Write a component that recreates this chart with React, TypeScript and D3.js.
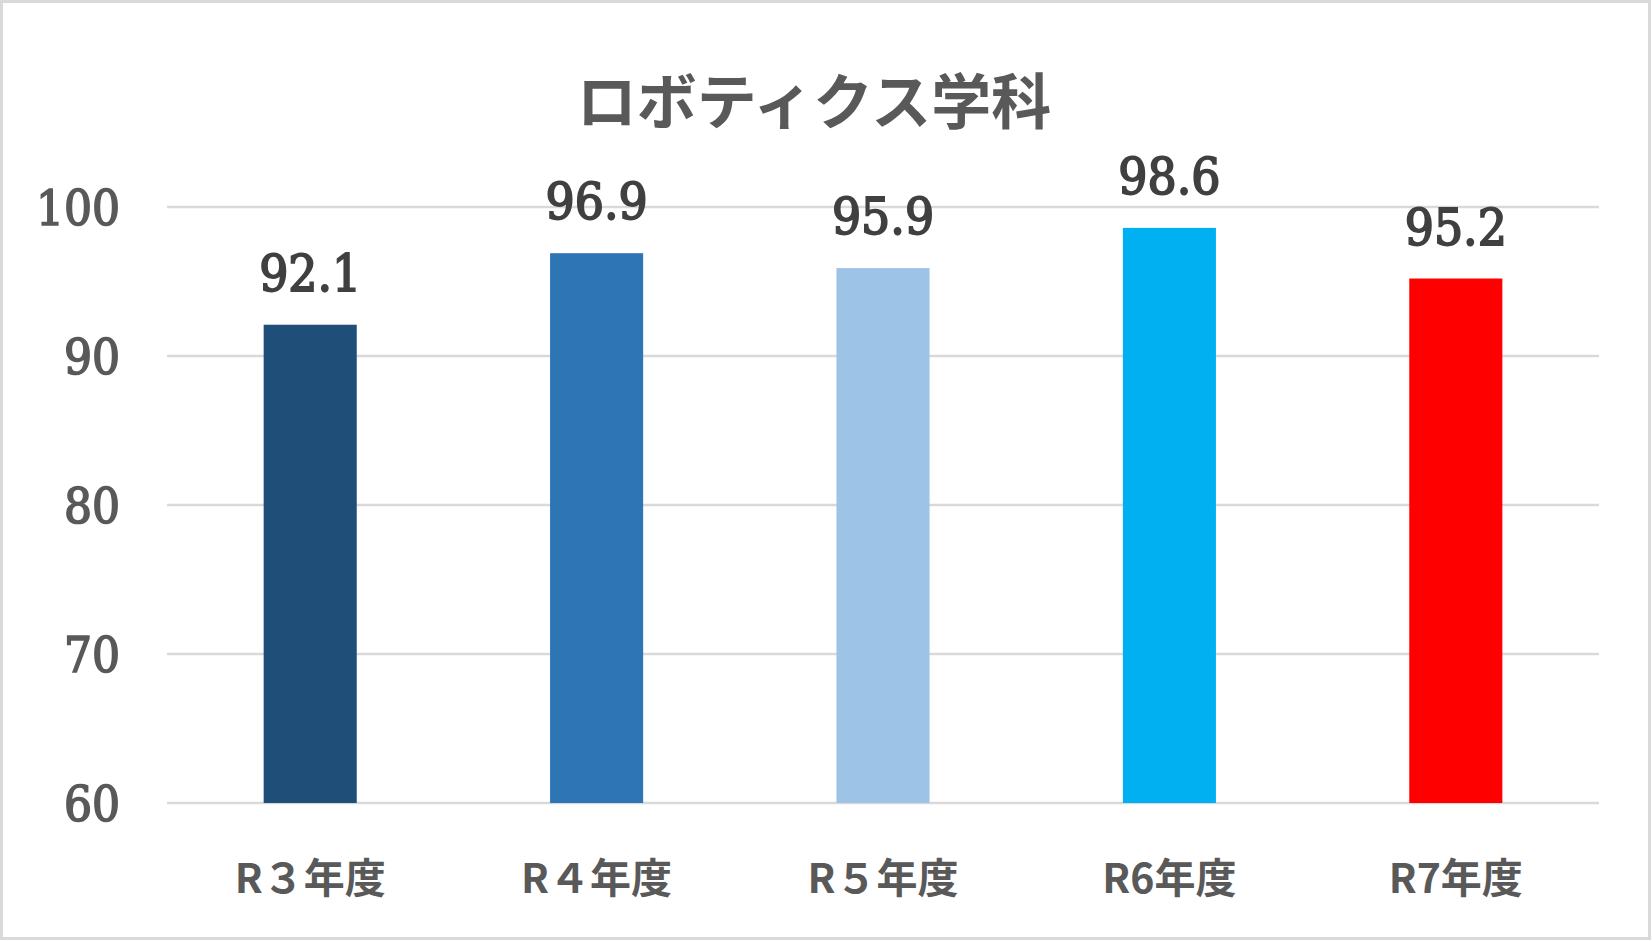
import React, { useEffect } from 'react';
import * as d3 from 'd3';

const categories = ['R３年度', 'R４年度', 'R５年度', 'R6年度', 'R7年度'];
const values = [92.1, 96.9, 95.9, 98.6, 95.2];
const barColors = ['#1f4e79', '#2e75b6', '#9dc3e6', '#00b0f0', '#ff0000'];
const yTicks = [60, 70, 80, 90, 100];
const title = 'ロボティクス学科';

const W = 1652;
const H = 941;
const plot = { left: 167, right: 1599, top: 207, bottom: 803 };

export default function App() {
  useEffect(() => {
    document.body.style.margin = '0';
  }, []);

  const x = d3.scaleBand<string>()
    .domain(categories)
    .range([plot.left, plot.right])
    .paddingInner(0.675)
    .paddingOuter(0.3375);

  const y = d3.scaleLinear()
    .domain([60, 100])
    .range([plot.bottom, plot.top]);

  const serif = '"DejaVu Serif Condensed", "DejaVu Serif", serif';
  const sans = '"Noto Sans CJK JP", "Noto Sans", sans-serif';

  return (
    <svg width={W} height={H} style={{ display: 'block' }}>
      <rect x={1.5} y={1.5} width={W - 4} height={H - 4} fill="#ffffff" stroke="#d9d9d9" strokeWidth={3} />

      <text x={814} y={124} textAnchor="middle" fontFamily={sans} fontSize={60} fontWeight={700} fill="#595959">
        {title}
      </text>

      {/* gridlines + y labels */}
      {yTicks.map(t => (
        <g key={t}>
          <line x1={plot.left} x2={plot.right} y1={y(t)} y2={y(t)} stroke="#d9d9d9" strokeWidth={2.5} />
          <text x={120} y={y(t)} dy="0.36em" textAnchor="end" fontFamily={serif} fontSize={49}
            fill="#595959" stroke="#595959" strokeWidth={1.6}>
            {t}
          </text>
        </g>
      ))}

      {/* bars */}
      {categories.map((c, i) => (
        <rect
          key={c}
          x={x(c)}
          y={y(values[i])}
          width={x.bandwidth()}
          height={y(60) - y(values[i])}
          fill={barColors[i]}
        />
      ))}

      {/* data labels */}
      {categories.map((c, i) => (
        <text
          key={c}
          x={(x(c) || 0) + x.bandwidth() / 2}
          y={y(values[i]) - 34}
          textAnchor="middle"
          fontFamily={serif}
          fontSize={51}
          fill="#404040"
          stroke="#404040"
          strokeWidth={1.8}
        >
          {values[i].toFixed(1)}
        </text>
      ))}

      {/* category labels */}
      {categories.map(c => (
        <text
          key={c}
          x={(x(c) || 0) + x.bandwidth() / 2}
          y={893}
          textAnchor="middle"
          fontFamily={sans}
          fontSize={41}
          fontWeight={700}
          fill="#595959"
        >
          {c}
        </text>
      ))}
    </svg>
  );
}
